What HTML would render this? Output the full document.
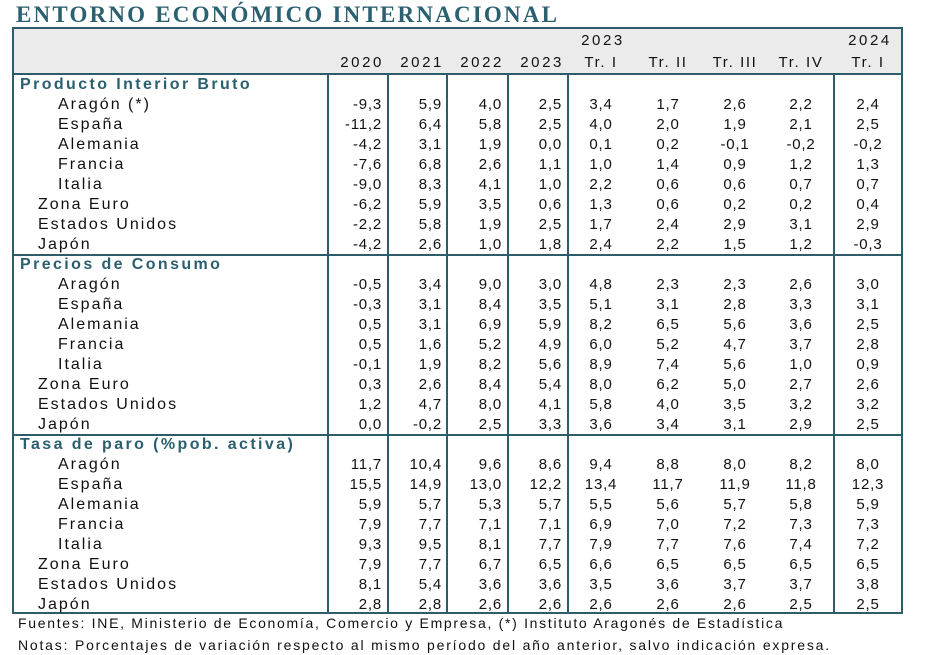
<!DOCTYPE html>
<html><head><meta charset="utf-8">
<style>
body{margin:0;width:933px;height:655px;background:#fff;position:relative;overflow:hidden;font-family:"Liberation Sans",Arial,sans-serif;color:#111}
.t{position:absolute;font-size:15px;line-height:20px;white-space:nowrap;letter-spacing:0.8px}
.lab{font-size:16px;letter-spacing:2.0px}
.hd{letter-spacing:2.6px}
.hd2{letter-spacing:1.6px}
.ln{position:absolute;background:#2b5d6b}
#title{position:absolute;left:16px;top:3px;font-family:"Liberation Serif",serif;font-weight:bold;font-size:23px;line-height:24px;color:#2b6070;letter-spacing:2.2px}
.sec{color:#2b5f6e;font-weight:bold;font-size:16px;letter-spacing:2.4px}
</style></head><body>
<div id="title">ENTORNO ECONÓMICO INTERNACIONAL</div>
<div style="position:absolute;left:14px;top:29px;width:888px;height:45px;background:#ebebeb"></div>
<div id="c"></div>
<script>
const c=document.getElementById('c');
function ln(x,y,w,h){c.insertAdjacentHTML('beforeend',`<div class="ln" style="left:${x}px;top:${y}px;width:${w}px;height:${h}px"></div>`);}
function tx(s,x,y,align,cls){let st='';
 if(align==='l')st=`left:${x}px`;
 else if(align==='r')st=`right:${933-x}px`;
 else st=`left:${x-50}px;width:100px;text-align:center`;
 c.insertAdjacentHTML('beforeend',`<div class="t ${cls||''}" style="${st};top:${y}px">${s}</div>`);}
ln(12,27,891,2);ln(12,612,891,2);ln(12,27,2,587);ln(901,27,2,587);
ln(12,73,891,2);ln(12,254,891,2);ln(12,434,891,2);
[327,387,446,507,567,833].forEach(x=>ln(x,74,2,539));
tx('2023',603,31,'c','hd');tx('2024',870,31,'c','hd');
const yrR=[382,442,502,562];
['2020','2021','2022','2023'].forEach((s,i)=>tx(s,yrR[i]+2,53,'r','hd'));
const trC=[601,668,735,801,868];
['Tr. I','Tr. II','Tr. III','Tr. IV','Tr. I'].forEach((s,i)=>tx(s,trC[i],53,'c','hd2'));
const secs=[
['Producto Interior Bruto',[
['Aragón (*)',1,'-9,3 5,9 4,0 2,5 3,4 1,7 2,6 2,2 2,4'],
['España',1,'-11,2 6,4 5,8 2,5 4,0 2,0 1,9 2,1 2,5'],
['Alemania',1,'-4,2 3,1 1,9 0,0 0,1 0,2 -0,1 -0,2 -0,2'],
['Francia',1,'-7,6 6,8 2,6 1,1 1,0 1,4 0,9 1,2 1,3'],
['Italia',1,'-9,0 8,3 4,1 1,0 2,2 0,6 0,6 0,7 0,7'],
['Zona Euro',0,'-6,2 5,9 3,5 0,6 1,3 0,6 0,2 0,2 0,4'],
['Estados Unidos',0,'-2,2 5,8 1,9 2,5 1,7 2,4 2,9 3,1 2,9'],
['Japón',0,'-4,2 2,6 1,0 1,8 2,4 2,2 1,5 1,2 -0,3']]],
['Precios de Consumo',[
['Aragón',1,'-0,5 3,4 9,0 3,0 4,8 2,3 2,3 2,6 3,0'],
['España',1,'-0,3 3,1 8,4 3,5 5,1 3,1 2,8 3,3 3,1'],
['Alemania',1,'0,5 3,1 6,9 5,9 8,2 6,5 5,6 3,6 2,5'],
['Francia',1,'0,5 1,6 5,2 4,9 6,0 5,2 4,7 3,7 2,8'],
['Italia',1,'-0,1 1,9 8,2 5,6 8,9 7,4 5,6 1,0 0,9'],
['Zona Euro',0,'0,3 2,6 8,4 5,4 8,0 6,2 5,0 2,7 2,6'],
['Estados Unidos',0,'1,2 4,7 8,0 4,1 5,8 4,0 3,5 3,2 3,2'],
['Japón',0,'0,0 -0,2 2,5 3,3 3,6 3,4 3,1 2,9 2,5']]],
['Tasa de paro (%pob. activa)',[
['Aragón',1,'11,7 10,4 9,6 8,6 9,4 8,8 8,0 8,2 8,0'],
['España',1,'15,5 14,9 13,0 12,2 13,4 11,7 11,9 11,8 12,3'],
['Alemania',1,'5,9 5,7 5,3 5,7 5,5 5,6 5,7 5,8 5,9'],
['Francia',1,'7,9 7,7 7,1 7,1 6,9 7,0 7,2 7,3 7,3'],
['Italia',1,'9,3 9,5 8,1 7,7 7,9 7,7 7,6 7,4 7,2'],
['Zona Euro',0,'7,9 7,7 6,7 6,5 6,6 6,5 6,5 6,5 6,5'],
['Estados Unidos',0,'8,1 5,4 3,6 3,6 3,5 3,6 3,7 3,7 3,8'],
['Japón',0,'2,8 2,8 2,6 2,6 2,6 2,6 2,6 2,5 2,5']]]];
let y=75;
secs.forEach(([h,rows])=>{
 tx(h,20,y,'l','sec');y+=20;
 rows.forEach(([n,ind,v])=>{
  tx(n,ind?58:38,y,'l','lab');
  v.split(' ').forEach((s,i)=>{ if(i<4)tx(s,yrR[i],y,'r'); else tx(s,trC[i-4],y,'c');});
  y+=20;});
});
</script>
<div class="t" style="left:18px;top:613px;font-size:14px;letter-spacing:1.7px">Fuentes: INE, Ministerio de Economía, Comercio y Empresa, (*) Instituto Aragonés de Estadística</div>
<div class="t" style="left:18px;top:635px;font-size:14px;letter-spacing:1.8px">Notas: Porcentajes de variación respecto al mismo período del año anterior, salvo indicación expresa.</div>
</body></html>
